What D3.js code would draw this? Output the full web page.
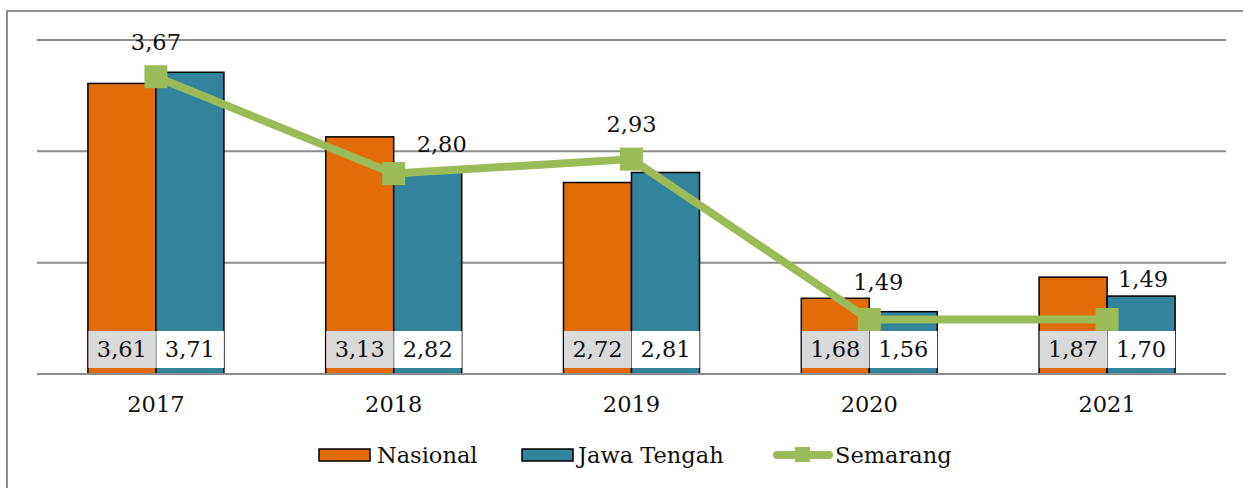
<!DOCTYPE html>
<html>
  <head>
    <style>
      body { margin: 0; background: #fff; }
      text { font-family: 'DejaVu Serif', serif; fill: #111; }
    </style>
  </head>
  <body>
    <div class="chart"></div>
    <script src="https://d3js.org/d3.v7.min.js"></script>
    <script>
      // data
      var years = ['2017', '2018', '2019', '2020', '2021'];
      var nasional = [3.61, 3.13, 2.72, 1.68, 1.87];
      var jawaTengah = [3.71, 2.82, 2.81, 1.56, 1.70];
      var semarang = [3.67, 2.80, 2.93, 1.49, 1.49];
      var gridTicks = [1, 2, 3, 4];

      // label nudges for the Semarang labels (layout only)
      var semLabelDx = [0, 48, 0, 9, 36];
      var semLabelDy = [-27, -22, -27, -29, -32];

      var W = 1243, H = 488;
      var FS = 22.5;
      var fmt = function(v) { return v.toFixed(2).replace('.', ','); };

      var svg = d3.select('.chart').append('svg')
        .attr('width', W)
        .attr('height', H);

      // outer frame
      svg.append('rect')
        .attr('x', 7).attr('y', 11)
        .attr('width', W + 20).attr('height', H + 20)
        .attr('fill', '#fff')
        .attr('stroke', '#8c8c8c')
        .attr('stroke-width', 2);

      var x = d3.scaleBand().domain(years).range([37, 1226]);
      var x1 = d3.scaleBand().domain(['n', 'j']).range([-68, 68]);
      var y = d3.scaleLinear().domain([1, 4]).range([374, 40]);

      // gridlines
      svg.append('g').selectAll('line')
        .data(gridTicks).enter()
        .append('line')
        .attr('x1', 37).attr('x2', 1226)
        .attr('y1', function(d) { return y(d); })
        .attr('y2', function(d) { return y(d); })
        .attr('stroke', '#8c8c8c')
        .attr('stroke-width', 2);

      var series = [
        { key: 'n', values: nasional, color: '#e36c09', box: '#d9d9d9' },
        { key: 'j', values: jawaTengah, color: '#31849b', box: '#ffffff' }
      ];

      // bars
      series.forEach(function(s) {
        svg.append('g').selectAll('rect')
          .data(s.values).enter()
          .append('rect')
          .attr('x', function(d, i) { return x(years[i]) + x.bandwidth() / 2 + x1(s.key); })
          .attr('width', x1.bandwidth())
          .attr('y', function(d) { return y(d); })
          .attr('height', function(d) { return y(1) - y(d); })
          .attr('fill', s.color)
          .attr('stroke', '#000')
          .attr('stroke-width', 1.5);
      });

      // redraw baseline over bars
      svg.append('line')
        .attr('x1', 37).attr('x2', 1226)
        .attr('y1', y(1)).attr('y2', y(1))
        .attr('stroke', '#8c8c8c')
        .attr('stroke-width', 2);

      // bar value boxes at the bottom
      series.forEach(function(s) {
        var g = svg.append('g').selectAll('g')
          .data(s.values).enter()
          .append('g')
          .attr('transform', function(d, i) {
            return 'translate(' + (x(years[i]) + x.bandwidth() / 2 + x1(s.key)) + ',331)';
          });
        g.append('rect')
          .attr('x', 0.5).attr('width', x1.bandwidth() - 0.5)
          .attr('height', 37)
          .attr('fill', s.box);
        g.append('text')
          .attr('x', x1.bandwidth() / 2)
          .attr('y', 26)
          .attr('text-anchor', 'middle')
          .attr('font-size', FS)
          .text(function(d) { return fmt(d); });
      });

      // Semarang line
      var cx = function(i) { return x(years[i]) + x.bandwidth() / 2; };
      var line = d3.line()
        .x(function(d, i) { return cx(i); })
        .y(function(d) { return y(d); });

      svg.append('path')
        .datum(semarang)
        .attr('d', line)
        .attr('fill', 'none')
        .attr('stroke', '#9bbb59')
        .attr('stroke-width', 8)
        .attr('stroke-linejoin', 'round');

      svg.append('g').selectAll('rect')
        .data(semarang).enter()
        .append('rect')
        .attr('x', function(d, i) { return cx(i) - 11.5; })
        .attr('y', function(d) { return y(d) - 11.5; })
        .attr('width', 23).attr('height', 23)
        .attr('fill', '#9bbb59');

      svg.append('g').selectAll('text')
        .data(semarang).enter()
        .append('text')
        .attr('x', function(d, i) { return cx(i) + semLabelDx[i]; })
        .attr('y', function(d, i) { return y(d) + semLabelDy[i]; })
        .attr('text-anchor', 'middle')
        .attr('font-size', FS)
        .text(function(d) { return fmt(d); });

      // category axis labels
      svg.append('g').selectAll('text')
        .data(years).enter()
        .append('text')
        .attr('x', function(d) { return x(d) + x.bandwidth() / 2; })
        .attr('y', 412)
        .attr('text-anchor', 'middle')
        .attr('font-size', FS)
        .text(function(d) { return d; });

      // legend
      var legend = svg.append('g');
      legend.append('rect')
        .attr('x', 319).attr('y', 449).attr('width', 51).attr('height', 12)
        .attr('fill', '#e36c09').attr('stroke', '#000').attr('stroke-width', 1.5);
      legend.append('text').attr('x', 377).attr('y', 463).attr('font-size', FS).text('Nasional');

      legend.append('rect')
        .attr('x', 522).attr('y', 449).attr('width', 51).attr('height', 12)
        .attr('fill', '#31849b').attr('stroke', '#000').attr('stroke-width', 1.5);
      legend.append('text').attr('x', 578).attr('y', 463).attr('font-size', FS).text('Jawa Tengah');

      legend.append('line')
        .attr('x1', 777).attr('x2', 829).attr('y1', 455).attr('y2', 455)
        .attr('stroke', '#9bbb59').attr('stroke-width', 8).attr('stroke-linecap', 'round');
      legend.append('rect')
        .attr('x', 795).attr('y', 447).attr('width', 15).attr('height', 15)
        .attr('fill', '#9bbb59');
      legend.append('text').attr('x', 835).attr('y', 463).attr('font-size', FS).text('Semarang');
    </script>
  </body>
</html>
